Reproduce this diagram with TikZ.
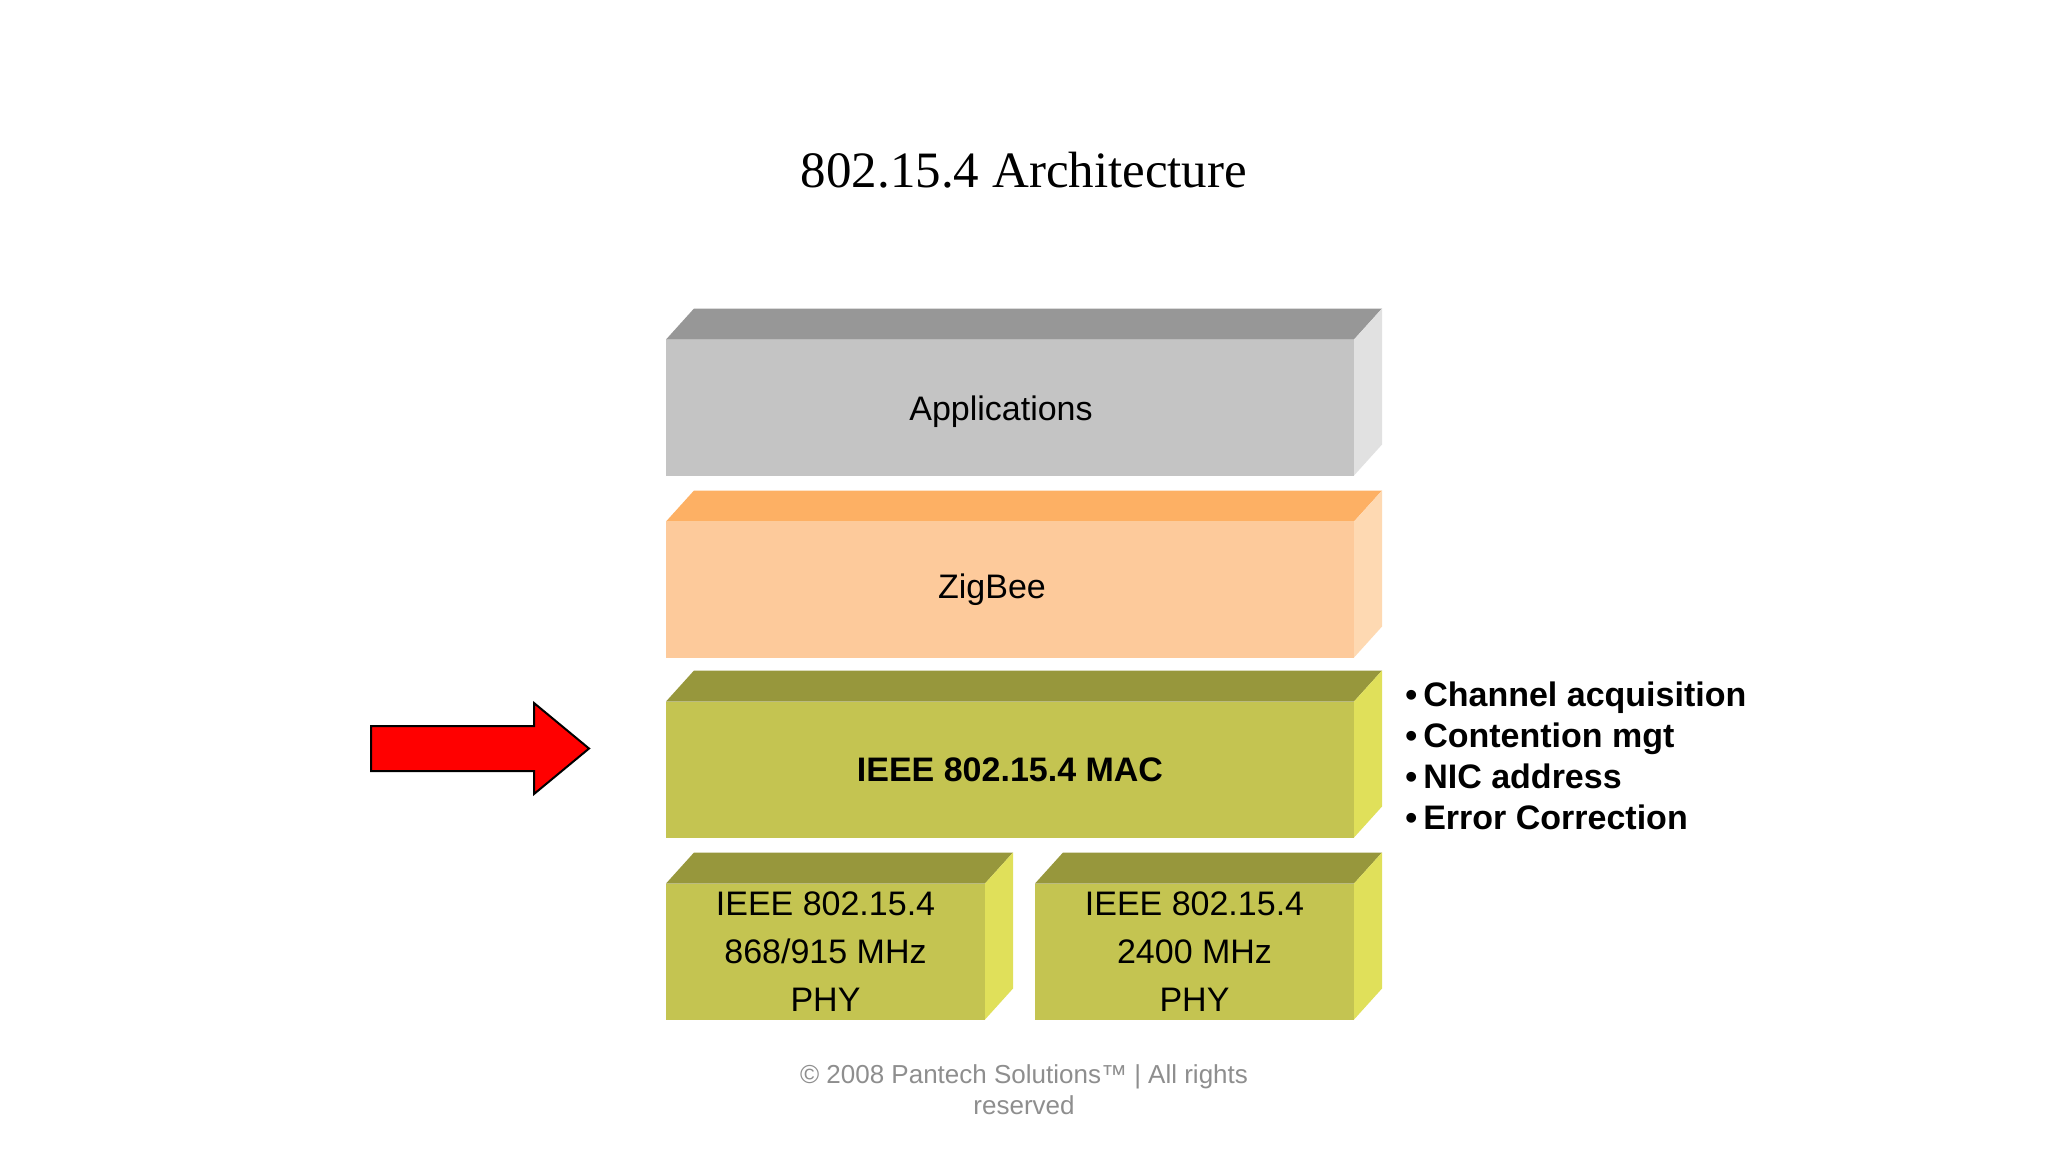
\documentclass[tikz,border=0pt]{standalone}
\usepackage{fontspec}
\setmainfont{Liberation Sans}
\newfontfamily\titlefont{Liberation Serif}
\usepackage{tikz}
\usetikzlibrary{positioning}
\definecolor{appfront}{HTML}{C4C4C4}
\definecolor{apptop}{HTML}{979797}
\definecolor{appside}{HTML}{E1E1E1}
\definecolor{zigfront}{HTML}{FDCA9B}
\definecolor{zigtop}{HTML}{FDB064}
\definecolor{zigside}{HTML}{FED9B2}
\definecolor{macfront}{HTML}{C4C451}
\definecolor{mactop}{HTML}{97973C}
\definecolor{macside}{HTML}{E0E05A}
\definecolor{footgray}{HTML}{8E8E8E}
\tikzstyle{layer} = [rectangle, inner sep=0pt, outer sep=0pt, minimum height=68pt, align=center, font=\fontsize{17}{24}\selectfont]
\tikzstyle{wide} = [layer, minimum width=344pt]
\tikzstyle{narrow} = [layer, minimum width=159.5pt]
\tikzstyle{back} = [shift={(28,-31)}]

\begin{document}
\begin{tikzpicture}[x=0.5pt, y=-0.5pt]
			\useasboundingbox[fill=white] (0,0) rectangle (2048,1152);

			%--Title--%
			\node(title) at (1024,170) {\titlefont\fontsize{25.5}{30}\selectfont 802.15.4 Architecture};

			%--Layers--%
			\node(app)[wide, fill=appfront] at (1010,407.5) {\raisebox{-2pt}[\height][\depth]{Applications}\kern9pt};
			\node(zig)[wide, fill=zigfront, below=23pt of app] {ZigBee\kern18pt};
			\node(mac)[wide, fill=macfront, below=22pt of zig] {\bfseries IEEE 802.15.4 MAC};
			\node(phylow)[narrow, fill=macfront, below right=23pt and 0pt of mac.south west] {IEEE 802.15.4\\868/915 MHz\\PHY};
			\node(phyhigh)[narrow, fill=macfront, below left=23pt and 0pt of mac.south east] {IEEE 802.15.4\\2400 MHz\\PHY};

			%--Top and side faces--%
			\fill[apptop] (app.north west) -- ++(28,-31) -- ([back]app.north east) -- (app.north east) -- cycle;
			\fill[appside] (app.north east) -- ++(28,-31) -- ([back]app.south east) -- (app.south east) -- cycle;
			\fill[zigtop] (zig.north west) -- ++(28,-31) -- ([back]zig.north east) -- (zig.north east) -- cycle;
			\fill[zigside] (zig.north east) -- ++(28,-31) -- ([back]zig.south east) -- (zig.south east) -- cycle;
			\fill[mactop] (mac.north west) -- ++(28,-31) -- ([back]mac.north east) -- (mac.north east) -- cycle;
			\fill[macside] (mac.north east) -- ++(28,-31) -- ([back]mac.south east) -- (mac.south east) -- cycle;
			\fill[mactop] (phylow.north west) -- ++(28,-31) -- ([back]phylow.north east) -- (phylow.north east) -- cycle;
			\fill[macside] (phylow.north east) -- ++(28,-31) -- ([back]phylow.south east) -- (phylow.south east) -- cycle;
			\fill[mactop] (phyhigh.north west) -- ++(28,-31) -- ([back]phyhigh.north east) -- (phyhigh.north east) -- cycle;
			\fill[macside] (phyhigh.north east) -- ++(28,-31) -- ([back]phyhigh.south east) -- (phyhigh.south east) -- cycle;

			%--Pointer--%
			\draw[fill=red, line width=1pt, line join=miter] (371,726) -- (534,726) -- (534,703) -- (589,748.5) -- (534,794) -- (534,771) -- (371,771) -- cycle;

			%--MAC tasks--%
			\node(tasks)[anchor=west, align=left, inner sep=0pt, font=\bfseries\fontsize{17}{20.5}\selectfont] at (1405,756)
				{•\hspace{3pt}Channel acquisition\\•\hspace{3pt}Contention mgt\\•\hspace{3pt}NIC address\\•\hspace{3pt}Error Correction};

			%--Footer--%
			\node(foot)[align=center, text=footgray, font=\fontsize{13}{15.5}\selectfont] at (1024,1090)
				{© 2008 Pantech Solutions™ | All rights\\reserved};
		\end{tikzpicture}
\end{document}
